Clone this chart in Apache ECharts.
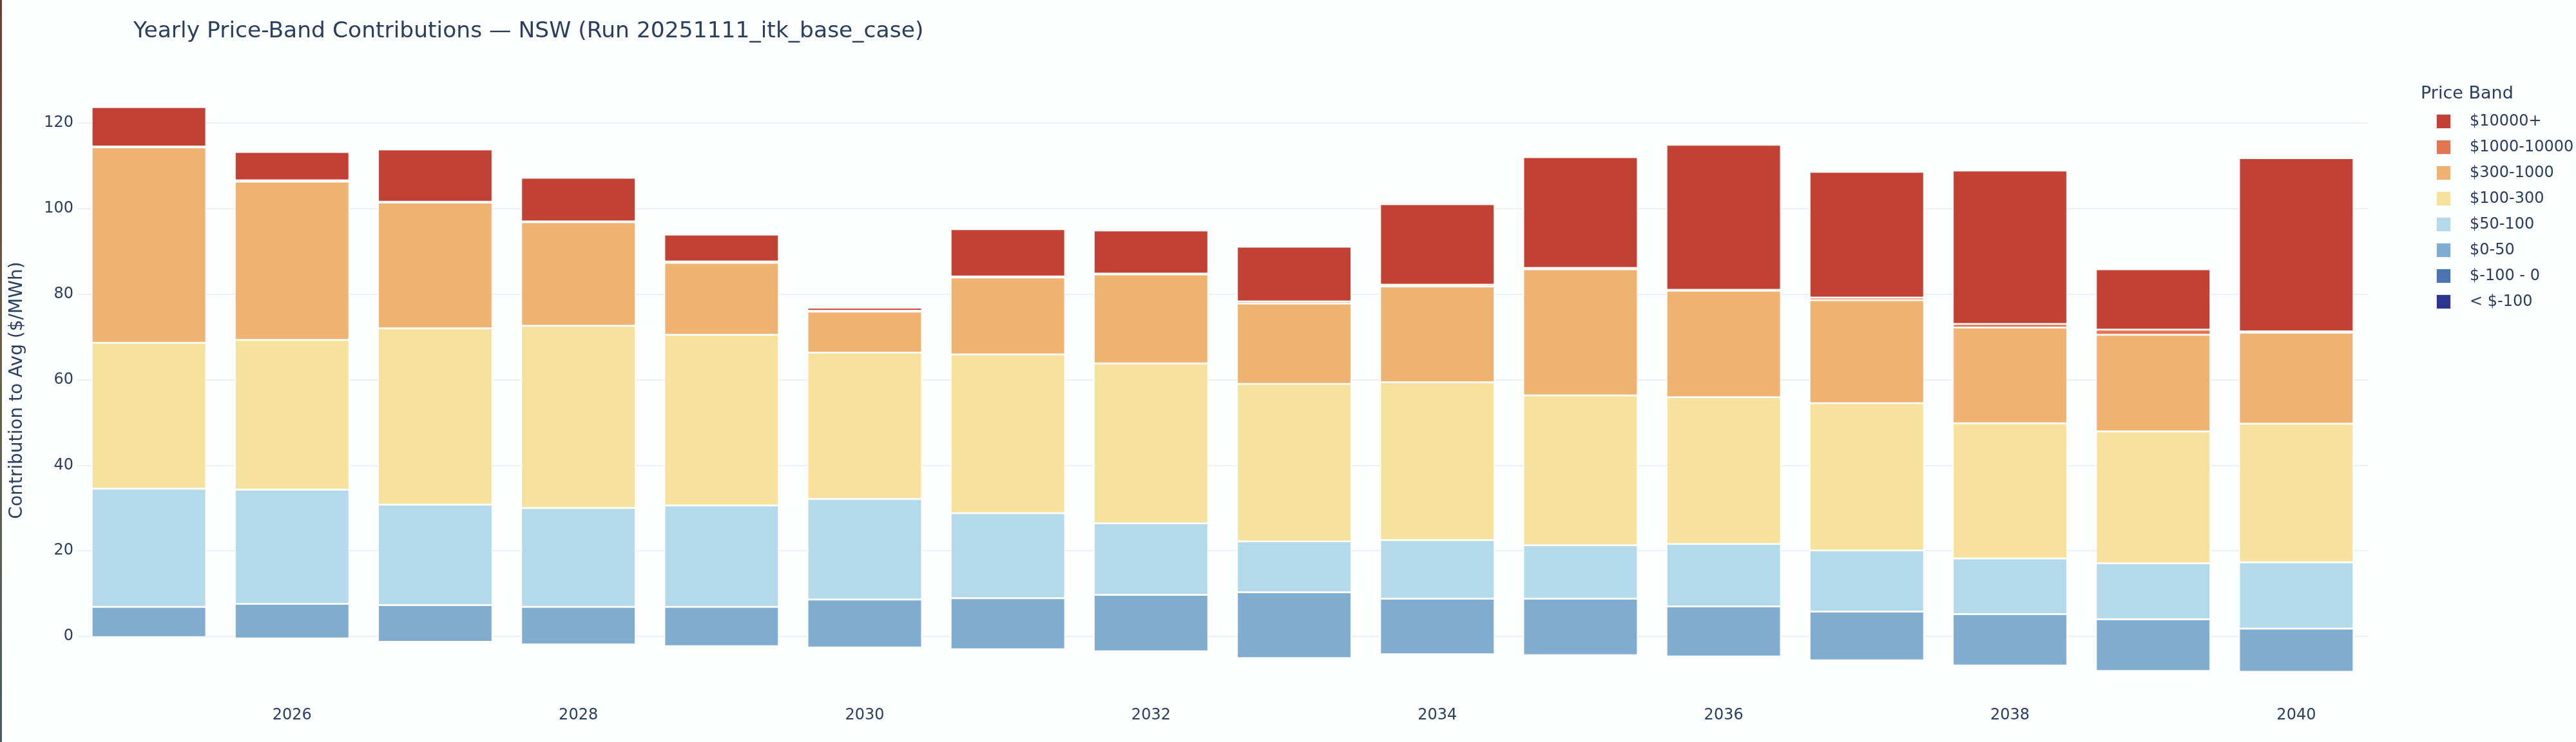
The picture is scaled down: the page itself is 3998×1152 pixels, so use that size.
<!DOCTYPE html>
<html>
<head>
<meta charset="utf-8">
<script src="https://cdn.jsdelivr.net/npm/echarts@6/dist/echarts.min.js"></script>
<style>
html,body{margin:0;padding:0;background:#fdfefe;}
#chart{width:3998px;height:1152px;}
</style>
</head>
<body>
<div id="chart"></div>
<script>
const years = ['2025','2026','2027','2028','2029','2030','2031','2032','2033','2034','2035','2036','2037','2038','2039','2040'];
const bandNames = ['< $-100', '$-100 - 0', '$0-50', '$50-100', '$100-300', '$300-1000', '$1000-10000', '$10000+'];
const bandColors = ['#2e358f', '#4a74b0', '#80acd0', '#b4d9ea', '#f7e29d', '#eeb271', '#e17652', '#c14134'];

const bandBelowNeg100 = [0,0,0,0,0,0,0,0,0,0,0,0,0,0,0,0];
const bandNeg100to0  = [-0.2,-0.5,-1.3,-1.9,-2.3,-2.6,-3.0,-3.5,-5.1,-4.2,-4.4,-4.7,-5.6,-6.8,-8.1,-8.3];
const band0to50      = [7.1,8.1,8.6,8.8,9.2,11.2,11.9,13.2,15.4,13.0,13.2,11.7,11.4,12.0,12.1,10.1];
const band50to100    = [27.6,26.7,23.5,23.1,23.7,23.5,19.9,16.7,11.9,13.7,12.5,14.6,14.3,13.0,13.1,15.5];
const band100to300   = [34.1,35.0,41.2,42.6,39.9,34.2,37.1,37.4,36.8,36.9,35.0,34.3,34.4,31.6,30.8,32.4];
const band300to1000  = [45.7,37.0,29.4,24.2,16.8,9.6,18.0,20.8,18.8,22.4,29.5,24.9,24.1,22.4,22.6,21.3];
const band1000to10000= [0.2,0.3,0.2,0.2,0.3,0.2,0.2,0.2,0.5,0.4,0.3,0.2,0.6,0.8,1.2,0.3];
const band10000plus  = [9.2,6.6,12.2,10.2,6.3,0.7,11.1,10.1,12.8,18.8,25.9,33.9,29.4,35.9,14.1,40.5];

const bandValues = [bandBelowNeg100, bandNeg100to0, band0to50, band50to100, band100to300, band300to1000, band1000to10000, band10000plus];
const yTickLabels = [0, 20, 40, 60, 80, 100, 120];

const textColor = '#2a3f5f';
const fontFam = '"DejaVu Sans", Verdana, sans-serif';

const series = bandNames.map((name, i) => ({
  name: name,
  type: 'bar',
  stack: 'total',
  stackStrategy: 'all',
  barCategoryGap: '20%',
  data: bandValues[i],
  itemStyle: { color: bandColors[i], borderColor: 'rgba(255,255,255,0.85)', borderWidth: 1.5 },
  emphasis: { disabled: true }
}));

const chart = echarts.init(document.getElementById('chart'), null, { renderer: 'canvas' });
chart.setOption({
  backgroundColor: '#fdfefe',
  animation: false,
  textStyle: { fontFamily: fontFam },
  title: [
    { text: 'Yearly Price-Band Contributions — NSW (Run 20251111_itk_base_case)', left: 202, top: 27,
      textStyle: { fontFamily: fontFam, fontSize: 34.5, fontWeight: 'normal', color: textColor } },
    { text: 'Price Band', left: 3752, top: 127,
      textStyle: { fontFamily: fontFam, fontSize: 27, fontWeight: 'normal', color: textColor } }
  ],
  legend: {
    orient: 'vertical',
    left: 3775,
    top: 171,
    itemWidth: 23,
    itemHeight: 23,
    itemGap: 15,
    icon: 'rect',
    data: bandNames.slice().reverse(),
    textStyle: { fontFamily: fontFam, fontSize: 24, color: textColor, lineHeight: 23, padding: [0, 0, 0, 24] },
    selectedMode: false
  },
  grid: { left: 120, right: 323, top: 124.5, bottom: 64.4, containLabel: false },
  xAxis: {
    type: 'category',
    data: years,
    axisLine: { show: false },
    axisTick: { show: false },
    axisLabel: {
      interval: (idx) => idx % 2 === 1,
      fontFamily: fontFam, fontSize: 24, color: textColor, margin: 11
    },
    splitLine: { show: false }
  },
  yAxis: {
    type: 'value',
    min: -15,
    max: 130,
    interval: 5,
    name: 'Contribution to Avg ($/MWh)',
    nameLocation: 'middle',
    nameGap: 79,
    nameTextStyle: { fontFamily: fontFam, fontSize: 28, color: textColor },
    axisLine: { show: false },
    axisTick: { show: false },
    axisLabel: {
      fontFamily: fontFam, fontSize: 24, color: textColor, margin: 6,
      formatter: (v) => (yTickLabels.indexOf(v) >= 0 ? String(v) : '')
    },
    splitLine: { show: true, lineStyle: { color: ['transparent', 'transparent', 'transparent', '#EBF0F8'], width: 2 } }
  },
  graphic: [
    { type: 'rect', left: 0, top: 0, z: 100,
      shape: { width: 3, height: 1152 },
      style: { fill: new echarts.graphic.LinearGradient(0, 0, 0, 1, [
        { offset: 0, color: '#6a3e36' },
        { offset: 0.5, color: '#6a6148' },
        { offset: 1, color: '#4c5b63' }
      ]) } }
  ],
  series: series
});
</script>
</body>
</html>
